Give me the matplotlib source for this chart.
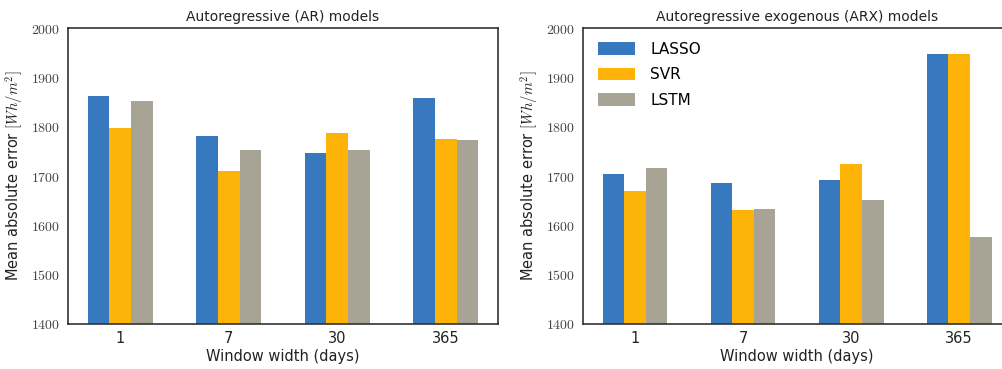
import numpy as np
import matplotlib
matplotlib.use("Agg")
import matplotlib.pyplot as plt

plt.rcParams["mathtext.fontset"] = "cm"
plt.rcParams["font.family"] = ["DejaVu Sans"]

# ── Data ──────────────────────────────────────────────────
windows = ["1", "7", "30", "365"]
models = ["LASSO", "SVR", "LSTM"]
colors = ["#3778bf", "#feb308", "#a8a495"]

ar_lasso = [1862, 1782, 1747, 1859]
ar_svr   = [1798, 1710, 1787, 1775]
ar_lstm  = [1852, 1752, 1753, 1773]

arx_lasso = [1705, 1686, 1691, 1947]
arx_svr   = [1670, 1632, 1725, 1947]
arx_lstm  = [1716, 1634, 1651, 1576]

yticks = [1400, 1500, 1600, 1700, 1800, 1900, 2000]

# ── Figure ────────────────────────────────────────────────
fig = plt.figure(figsize=(10.02, 3.69), dpi=100)
ax1 = fig.add_axes([0.0679, 0.122, 0.429, 0.802])
ax2 = fig.add_axes([0.582, 0.122, 0.427, 0.802])

panels = [
    (ax1, "Autoregressive (AR) models", [ar_lasso, ar_svr, ar_lstm]),
    (ax2, "Autoregressive exogenous (ARX) models", [arx_lasso, arx_svr, arx_lstm]),
]

x = np.arange(len(windows))
width = 0.2
for ax, title, series in panels:
    for i, (vals, name, c) in enumerate(zip(series, models, colors)):
        ax.bar(x + (i - 1) * width, vals, width, color=c, label=name)
    ax.set_ylim(1400, 2000)
    ax.set_yticks(yticks)
    ax.set_yticklabels([f"${t}$" for t in yticks], fontsize=10, color="#444444")
    ax.set_xticks(x)
    ax.set_xticklabels(windows, fontsize=10.5, color="#222222")
    ax.tick_params(length=0, pad=5)
    ax.tick_params(axis="y", pad=6)
    ax.set_title(title, fontsize=10, pad=5, color="#222222")
    ax.set_xlabel("Window width (days)", fontsize=10.5, labelpad=2, color="#222222")
    ax.set_ylabel(r"Mean absolute error $[Wh/m^2]$", fontsize=10.5,
                  labelpad=4, color="#222222")
    for s in ax.spines.values():
        s.set_color("#333333")
        s.set_linewidth(1.2)

ax2.legend(loc="upper left", frameon=False, fontsize=11,
           handlelength=2.4, handleheight=0.9, handletextpad=1.0,
           labelspacing=0.7, borderaxespad=0.3, bbox_to_anchor=(0.01, 0.99))

fig.savefig("out.png", dpi=100)
